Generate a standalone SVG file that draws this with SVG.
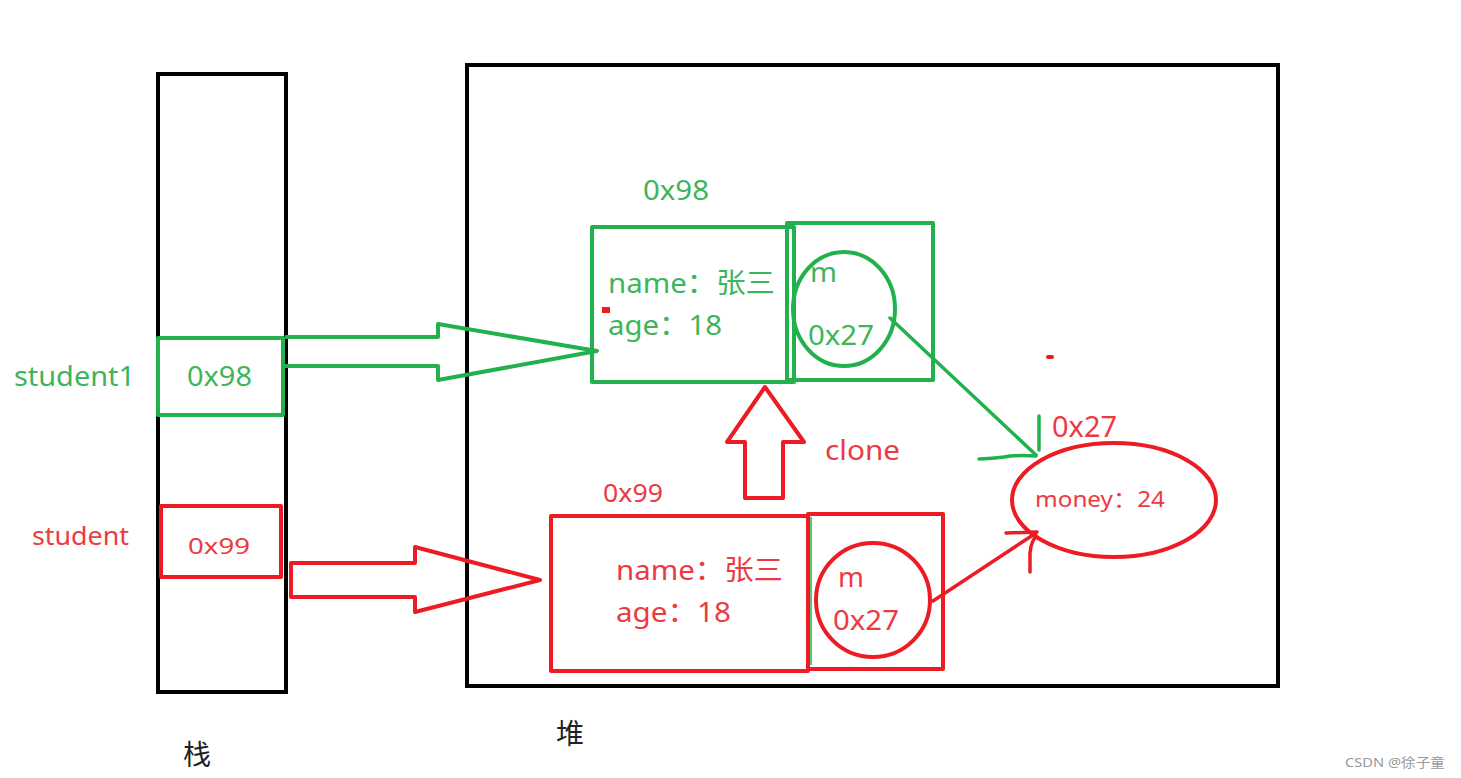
<svg xmlns="http://www.w3.org/2000/svg" width="1461" height="778" viewBox="0 0 1461 778">
<style>
.blk{fill:none;stroke:#000;stroke-width:4}
.g{fill:none;stroke:#22B14C;stroke-width:4;stroke-linejoin:round}
.r{fill:none;stroke:#ED1C24;stroke-width:4;stroke-linejoin:round}
.gl{fill:none;stroke:#22B14C;stroke-width:3.5;stroke-linecap:round}
.rl{fill:none;stroke:#ED1C24;stroke-width:3.5;stroke-linecap:round}
text{font-family:"Noto Sans","Noto Sans CJK SC",sans-serif}
.gt{fill:#3DB55A}
.rt{fill:#EC3A42}
.kt{fill:#222;font-family:"Noto Sans CJK SC",sans-serif}
</style>
<rect width="1461" height="778" fill="#fff"/>
<g id="stack"><rect class="blk" x="158" y="74" width="128" height="618"/><text class="kt" x="183" y="765" font-size="28">栈</text></g>
<g id="heap"><rect class="blk" x="467" y="65" width="811" height="621"/><text class="kt" x="556" y="744" font-size="28">堆</text></g>
<g id="student1">
<text class="gt" x="14" y="386" font-size="28" textLength="121" lengthAdjust="spacingAndGlyphs">student1</text>
<rect class="g" x="158" y="338" width="125" height="77"/>
<text class="gt" x="187" y="386" font-size="28" textLength="65" lengthAdjust="spacingAndGlyphs">0x98</text>
</g>
<g id="student">
<text class="rt" x="32" y="545" font-size="25" textLength="97" lengthAdjust="spacingAndGlyphs">student</text>
<rect class="r" x="161" y="506" width="120" height="71"/>
<text class="rt" x="188" y="554" font-size="22" textLength="62" lengthAdjust="spacingAndGlyphs">0x99</text>
</g>
<g id="obj98">
<text class="gt" x="643" y="200" font-size="28" textLength="66" lengthAdjust="spacingAndGlyphs">0x98</text>
<rect class="g" x="592" y="227" width="202" height="155"/>
<rect class="g" x="787" y="223" width="146" height="157"/>
<ellipse class="g" cx="844" cy="309" rx="51" ry="57"/>
<text class="gt" x="608" y="293" font-size="28" textLength="167" lengthAdjust="spacingAndGlyphs">name：张三</text>
<text class="gt" x="608" y="335" font-size="28" textLength="114" lengthAdjust="spacingAndGlyphs">age：18</text>
<text class="gt" x="810" y="282" font-size="27" textLength="27" lengthAdjust="spacingAndGlyphs">m</text>
<text class="gt" x="808" y="345" font-size="28" textLength="66" lengthAdjust="spacingAndGlyphs">0x27</text>
<rect x="602" y="307" width="8" height="6" fill="#ED1C24"/>
</g>
<g id="obj99">
<text class="rt" x="603" y="502" font-size="25" textLength="60" lengthAdjust="spacingAndGlyphs">0x99</text>
<rect class="r" x="551" y="516" width="257" height="155"/>
<rect class="r" x="808" y="514" width="135" height="155"/>
<line x1="811" y1="517" x2="811" y2="665" stroke="#22B14C" stroke-width="1.5"/>
<ellipse class="r" cx="873" cy="600" rx="57" ry="57"/>
<text class="rt" x="616" y="580" font-size="28" textLength="167" lengthAdjust="spacingAndGlyphs">name：张三</text>
<text class="rt" x="616" y="622" font-size="28" textLength="115" lengthAdjust="spacingAndGlyphs">age：18</text>
<text class="rt" x="838" y="587" font-size="27" textLength="26" lengthAdjust="spacingAndGlyphs">m</text>
<text class="rt" x="833" y="630" font-size="28" textLength="66" lengthAdjust="spacingAndGlyphs">0x27</text>
</g>
<g id="money">
<text class="rt" x="1052" y="437" font-size="29" textLength="65" lengthAdjust="spacingAndGlyphs">0x27</text>
<ellipse class="r" cx="1114" cy="500" rx="102" ry="57"/>
<text class="rt" x="1035" y="507" font-size="22" textLength="130" lengthAdjust="spacingAndGlyphs">money：24</text>
<rect x="1046" y="355" width="8" height="4" rx="2" fill="#ED1C24"/>
</g>
<g id="connectors">
<path class="g" d="M285 337 H438 V324 L597 351 L438 380 V366 H285"/>
<path class="r" d="M291 563 H415 V547 L540 580 L415 612 V597 H291 Z"/>
<path class="r" d="M745 498 V442 H727 L765 387 L804 442 H783 V498 Z"/>
<text class="rt" x="825" y="460" font-size="27" textLength="75" lengthAdjust="spacingAndGlyphs">clone</text>
<line class="gl" x1="890" y1="318" x2="1036" y2="455"/>
<line class="gl" x1="1039" y1="416" x2="1039" y2="450"/>
<path class="gl" d="M979 459 Q1000 458 1010 456 Q1022 455 1036 456"/>
<line class="rl" x1="933" y1="601" x2="1036" y2="533"/>
<line class="rl" x1="1006" y1="533" x2="1037" y2="532"/>
<path class="rl" d="M1036 536 Q1029 545 1030 560 V572"/>
</g>
<text x="1345" y="767" font-size="13" fill="#999" font-family="'Liberation Sans','Noto Sans CJK SC',sans-serif" textLength="100" lengthAdjust="spacingAndGlyphs">CSDN @徐子童</text>
</svg>
